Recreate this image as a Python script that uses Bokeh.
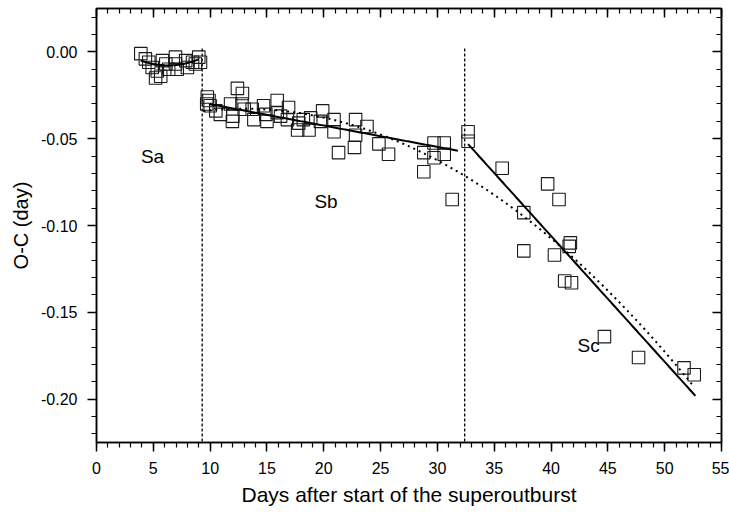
import numpy as np
from bokeh.plotting import figure
from bokeh.models import LinearAxis, Range1d, FixedTicker, CustomJSTickFormatter
from bokeh.core.properties import value
from bokeh.embed import file_html
from bokeh.resources import INLINE

# ---- data ----
x_sa = [3.9, 4.3, 4.6, 4.9, 5.35, 5.2, 5.65, 5.8, 6.1, 6.35, 6.95, 6.95, 7.1, 7.85, 8.0, 8.45, 8.7, 9.0, 9.15]
y_sa = [-0.001, -0.004, -0.006, -0.009, -0.011, -0.015, -0.014, -0.005, -0.007, -0.010, -0.003, -0.007, -0.010,
        -0.005, -0.009, -0.006, -0.007, -0.003, -0.006]

x_sb = [9.75, 9.9, 9.7, 10.0, 10.5, 10.9, 11.8, 11.96, 12.0, 12.4, 12.84, 12.8, 13.0, 13.7, 13.85, 14.7, 14.9,
        15.0, 15.9, 15.9, 16.2, 16.9, 16.8, 17.8, 17.7, 18.2, 18.7, 18.85, 19.9, 19.7, 20.9, 20.9, 21.3, 22.8,
        22.8, 22.7, 23.8, 24.85, 25.7, 28.8, 28.8, 29.7, 29.7, 30.6, 30.6, 31.3]
y_sb = [-0.026, -0.028, -0.030, -0.031, -0.034, -0.036, -0.030, -0.040, -0.037, -0.021, -0.024, -0.030, -0.033,
        -0.033, -0.039, -0.031, -0.036, -0.040, -0.028, -0.035, -0.037, -0.032, -0.039, -0.041, -0.045, -0.039,
        -0.045, -0.038, -0.034, -0.040, -0.039, -0.046, -0.058, -0.039, -0.048, -0.055, -0.043, -0.053, -0.059,
        -0.058, -0.069, -0.0525, -0.061, -0.0525, -0.059, -0.085]

x_sc = [32.7, 32.7, 35.7, 37.6, 37.6, 39.7, 40.7, 40.3, 41.7, 41.6, 41.2, 41.8, 44.7, 47.7, 51.7, 52.6]
y_sc = [-0.046, -0.0515, -0.067, -0.0926, -0.1146, -0.076, -0.085, -0.117, -0.110, -0.112, -0.132, -0.133,
        -0.164, -0.176, -0.182, -0.186]

# fit models: (x_start, x_end, x0, c0, c1, c2) -> y = c0 + c1*(x-x0) + c2*(x-x0)^2
fit_sa = [3.9, 9.0, 6.3, -0.0078, 0.0, 0.000486]
fit_sb = [9.9, 31.8, 9.9, -0.030, -0.00123, 0.0]
fit_sc = [32.7, 52.7, 32.7, -0.0531, -0.00725, 0.0]
fit_all = [9.4, 52.6, 9.4, -0.034, 0.000716, -0.0001018]

boundaries = [9.3, 32.4]
labels = ["Sa", "Sb", "Sc"]
label_x = [4.93, 20.2, 43.3]
label_y = [-0.060, -0.086, -0.169]

x_ticks = list(range(0, 56, 5))
x_minor = list(range(0, 56))
y_ticks = [0.0, -0.05, -0.10, -0.15, -0.20]
y_minor = [round(-0.22 + 0.01 * i, 2) for i in range(25)]

FONT = "Liberation Sans"


def model(f):
    xs = np.linspace(f[0], f[1], 200)
    u = xs - f[2]
    return xs, f[3] + f[4] * u + f[5] * u * u


p = figure(width=729, height=514, output_backend="svg", toolbar_location=None,
           x_range=Range1d(0, 55), y_range=Range1d(-0.225, 0.025),
           min_border_left=96, min_border_right=8, min_border_top=8, min_border_bottom=72,
           x_axis_label="Days after start of the superoutburst", y_axis_label="O-C (day)")
p.grid.visible = False
p.outline_line_color = "black"
p.outline_line_width = 1.5
p.background_fill_color = "white"
p.border_fill_color = "white"

for ax in (p.xaxis[0], p.yaxis[0]):
    ax.axis_line_width = 1.5
    ax.major_tick_line_width = 1.5
    ax.minor_tick_line_width = 1.2
    ax.major_tick_in = 0
    ax.major_tick_out = 9
    ax.minor_tick_in = 0
    ax.minor_tick_out = 5
    ax.major_label_text_font = FONT
    ax.major_label_text_font_size = "16px"
    ax.major_label_text_color = "black"
    ax.axis_label_text_font = FONT
    ax.axis_label_text_font_size = "20px"
    ax.axis_label_text_font_style = "normal"
    ax.axis_label_text_color = "black"

p.xaxis[0].ticker = FixedTicker(ticks=x_ticks, minor_ticks=x_minor)
p.yaxis[0].ticker = FixedTicker(ticks=y_ticks, minor_ticks=y_minor)
p.yaxis[0].formatter = CustomJSTickFormatter(code="return tick.toFixed(2);")
p.xaxis[0].axis_label_text_font_size = "21px"
p.xaxis[0].major_label_standoff = 10
p.yaxis[0].major_label_standoff = 10
p.xaxis[0].axis_label_standoff = 6
p.yaxis[0].axis_label_standoff = 6

top = LinearAxis(ticker=FixedTicker(ticks=x_ticks, minor_ticks=x_minor))
right = LinearAxis(ticker=FixedTicker(ticks=y_ticks, minor_ticks=y_minor))
for ax in (top, right):
    ax.axis_line_width = 1.5
    ax.major_tick_line_width = 1.5
    ax.minor_tick_line_width = 1.2
    ax.major_tick_in = 9
    ax.major_tick_out = 0
    ax.minor_tick_in = 5
    ax.minor_tick_out = 0
    ax.major_label_text_font_size = "0px"
    ax.major_label_text_color = None
    ax.major_label_standoff = 0
p.add_layout(top, "above")
p.add_layout(right, "right")

# boundaries
for b in boundaries:
    p.segment(x0=[b], y0=[0.002], x1=[b], y1=[-0.225], line_color="black", line_width=1.3, line_dash="3 2")

# points
for xs, ys in ((x_sa, y_sa), (x_sb, y_sb), (x_sc, y_sc)):
    p.scatter(xs, ys, marker="square", size=12.5, fill_color=None, line_color="#1a1a1a", line_width=1.1)

# fits
for f in (fit_sa, fit_sb, fit_sc):
    xs, ys = model(f)
    p.line(xs, ys, line_color="black", line_width=2)
xs, ys = model(fit_all)
p.line(xs, ys, line_color="black", line_width=2, line_dash="2 4")

p.text(x=label_x, y=label_y, text=labels, text_font=value(FONT), text_font_size="19px",
       text_align="center", text_baseline="middle", text_color="black")

open("out.html", "w").write(file_html(p, INLINE))
